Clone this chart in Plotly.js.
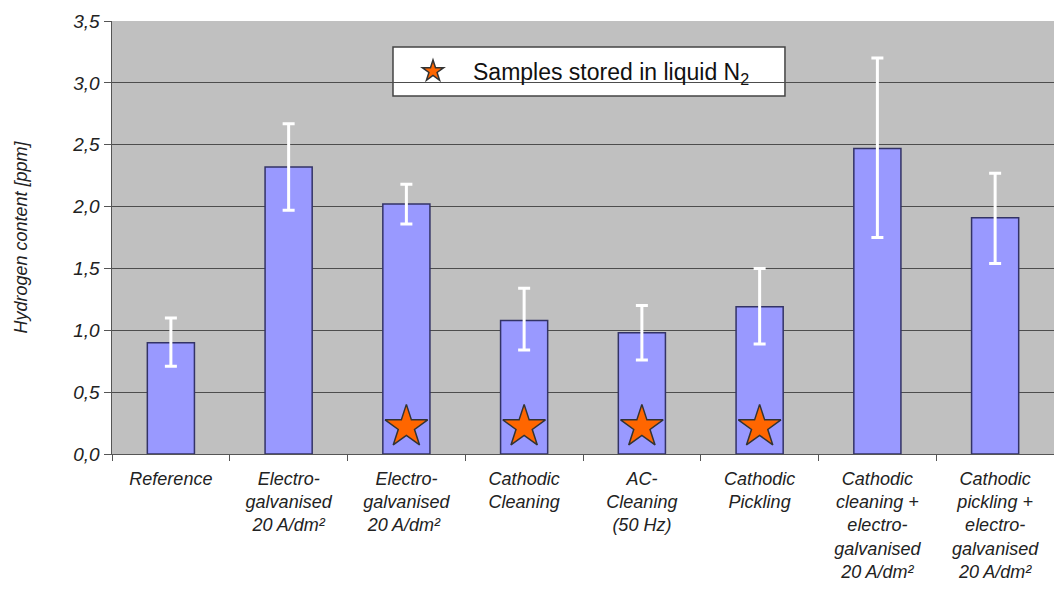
<!DOCTYPE html>
<html>
<head>
<meta charset="utf-8">
<script src="https://cdn.plot.ly/plotly-3.0.1.min.js"></script>
<style>html,body{margin:0;padding:0;background:#fff;}#chart{width:1054px;height:590px;}</style>
</head>
<body>
<div id="chart"></div>
<script>
const categories = [
  "Reference",
  "Electro-<br>galvanised<br>20 A/dm²",
  "Electro-<br>galvanised<br>20 A/dm² ",
  "Cathodic<br>Cleaning",
  "AC-<br>Cleaning<br>(50 Hz)",
  "Cathodic<br>Pickling",
  "Cathodic<br>cleaning +<br>electro-<br>galvanised<br>20 A/dm²",
  "Cathodic<br>pickling +<br>electro-<br>galvanised<br>20 A/dm²"
];
const hydrogen = [0.90, 2.32, 2.02, 1.08, 0.98, 1.19, 2.47, 1.91];
const errUpper = [0.20, 0.35, 0.16, 0.26, 0.22, 0.31, 0.73, 0.36];
const errLower = [0.19, 0.35, 0.16, 0.24, 0.22, 0.30, 0.72, 0.37];
const starCategories = [categories[2], categories[3], categories[4], categories[5]];
const starValues = [0.22, 0.22, 0.22, 0.22];
const yTicks = [0, 0.5, 1.0, 1.5, 2.0, 2.5, 3.0, 3.5];

const font = {family: "Liberation Sans, Arial, sans-serif", color: "#222"};

const traces = [
  {
    type: "bar",
    x: categories,
    y: hydrogen,
    marker: {color: "#9999ff", line: {color: "#333366", width: 1.5}},
    error_y: {type: "data", symmetric: false, array: errUpper, arrayminus: errLower,
              color: "#ffffff", thickness: 3, width: 6},
    showlegend: false,
    hoverinfo: "skip"
  },
  {
    type: "scatter",
    mode: "markers",
    x: starCategories,
    y: starValues,
    name: "Samples stored in liquid N<sub>2</sub>",
    marker: {symbol: "star", size: 32, color: "#ff6600", line: {color: "#333333", width: 1.5}},
    showlegend: true,
    hoverinfo: "skip"
  }
];

const layout = {
  width: 1054, height: 590,
  margin: {l: 112, r: 0, t: 21, b: 136},
  paper_bgcolor: "#ffffff",
  plot_bgcolor: "#c0c0c0",
  separators: ", ",
  bargap: 0.6,
  font: font,
  showlegend: true,
  shapes: [{
    type: "rect", xref: "paper", yref: "paper",
    x0: 0.2983, x1: 0.7144, y0: 0.8268, y1: 0.940,
    fillcolor: "#ffffff", line: {color: "#444444", width: 1.5}, layer: "below"
  }],
  legend: {
    x: 0.2983, xanchor: "left", y: 0.884, yanchor: "middle",
    bgcolor: "rgba(0,0,0,0)", borderwidth: 0,
    font: {family: font.family, size: 23, color: "#111"},
    itemwidth: 70,
    itemsizing: "trace"
  },
  xaxis: {
    type: "category",
    showline: true, linecolor: "#555", linewidth: 1,
    ticks: "outside", tickson: "boundaries", ticklen: 6, tickcolor: "#555",
    tickfont: {family: font.family, size: 18, color: "#222", style: "italic"},
    ticklabelstandoff: 8,
    showgrid: false,
    tickangle: 0,
    fixedrange: true
  },
  yaxis: {
    range: [0, 3.5],
    tickvals: yTicks,
    tickformat: ".1f",
    showline: true, linecolor: "#555", linewidth: 1.5,
    ticks: "outside", ticklen: 7, tickcolor: "#555",
    showgrid: true, gridcolor: "#4d4d4d", gridwidth: 1,
    zeroline: false,
    tickfont: {family: font.family, size: 19, color: "#222", style: "italic"},
    title: {text: "Hydrogen content [ppm]", font: {family: font.family, size: 18, color: "#222", style: "italic"}, standoff: 40},
    fixedrange: true
  }
};

Plotly.newPlot("chart", traces, layout, {displayModeBar: false, staticPlot: true});
</script>
</body>
</html>
